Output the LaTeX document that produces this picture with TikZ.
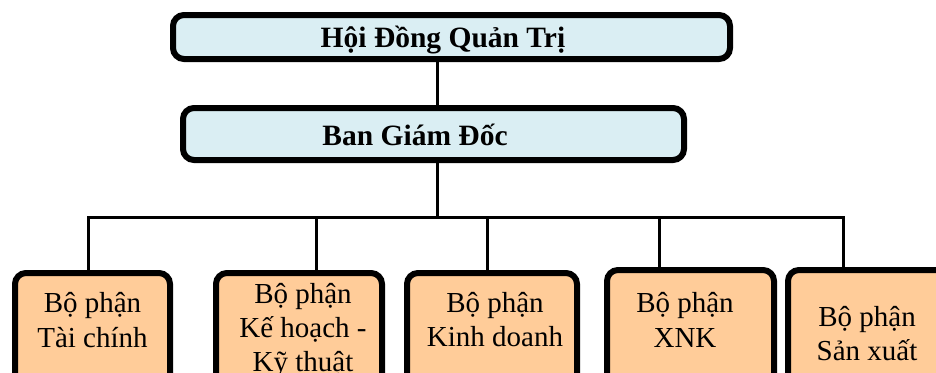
\documentclass[tikz,border=0pt]{standalone}
\usepackage{fontspec}
\setmainfont{Liberation Serif}
\usetikzlibrary{backgrounds}
\definecolor{headfill}{HTML}{DAEEF3}
\definecolor{deptfill}{HTML}{FFCC99}
\begin{document}
\begin{tikzpicture}[x=1pt,y=-1pt,
  headbox/.style={draw=black, line width=6pt, rounded corners=11pt, fill=headfill,
    anchor=north west, inner sep=0pt, outer sep=0pt},
  deptbox/.style={draw=black, line width=6pt, rounded corners=11pt, fill=deptfill,
    anchor=north west, inner sep=0pt, outer sep=0pt, minimum height=140pt},
  conn/.style={draw=black, line width=3pt},
  headtxt/.style={anchor=base, inner sep=0pt, font=\fontsize{29.5}{34}\selectfont\bfseries},
  depttxt/.style={anchor=base, inner sep=0pt, font=\fontsize{29}{34}\selectfont}]
\useasboundingbox (0,0) rectangle (936,372);
\clip (0,0) rectangle (936,372);

% top boxes
\node[headbox, minimum width=557pt, minimum height=44pt] (hdqt) at (173,15) {};
\node[headbox, minimum width=501pt, minimum height=52pt] (bgd) at (183,108) {};
\node[headtxt] (hdqtT) at (443,47) {Hội Đồng Quản Trị};
\node[headtxt] (bgdT) at (415,145) {Ban Giám Đốc};

% department boxes
\node[deptbox, minimum width=155pt] (b1) at (15,273) {};
\node[deptbox, minimum width=166pt] (b2) at (216,273) {};
\node[deptbox, minimum width=170pt] (b3) at (407,273) {};
\node[deptbox, minimum width=167pt] (b4) at (607,270) {};
\node[deptbox, minimum width=175pt] (b5) at (788,270) {};

% connector points
\coordinate (bus) at (437,217);
\coordinate (tap1) at (88,217);
\coordinate (tap2) at (316,217);
\coordinate (tap3) at (487,217);
\coordinate (tap4) at (659,217);
\coordinate (tap5) at (843,217);

\begin{scope}[on background layer]
\draw[conn] (bus |- hdqt.south) -- (bus |- bgd.north);
\draw[conn] (bus |- bgd.south) -- (bus);
\draw[conn] (tap1 |- b1.north) -- (tap1) -- (tap5) -- (tap5 |- b5.north);
\draw[conn] (tap2) -- (tap2 |- b2.north);
\draw[conn] (tap3) -- (tap3 |- b3.north);
\draw[conn] (tap4) -- (tap4 |- b4.north);
\end{scope}

% department texts
\node[depttxt] (b1a) at (92.5,312) {Bộ phận};
\node[depttxt] (b1b) at (92.5,347) {Tài chính};
\node[depttxt] (b2a) at (303,303) {Bộ phận};
\node[depttxt] (b2b) at (303,337) {Kế hoạch -};
\node[depttxt] (b2c) at (303,371) {Kỹ thuật};
\node[depttxt] (b3a) at (495,312) {Bộ phận};
\node[depttxt] (b3b) at (495,346) {Kinh doanh};
\node[depttxt] (b4a) at (685,312) {Bộ phận};
\node[depttxt] (b4b) at (685,347) {XNK};
\node[depttxt] (b5a) at (867,326) {Bộ phận};
\node[depttxt] (b5b) at (867,360) {Sản xuất};
\end{tikzpicture}
\end{document}
